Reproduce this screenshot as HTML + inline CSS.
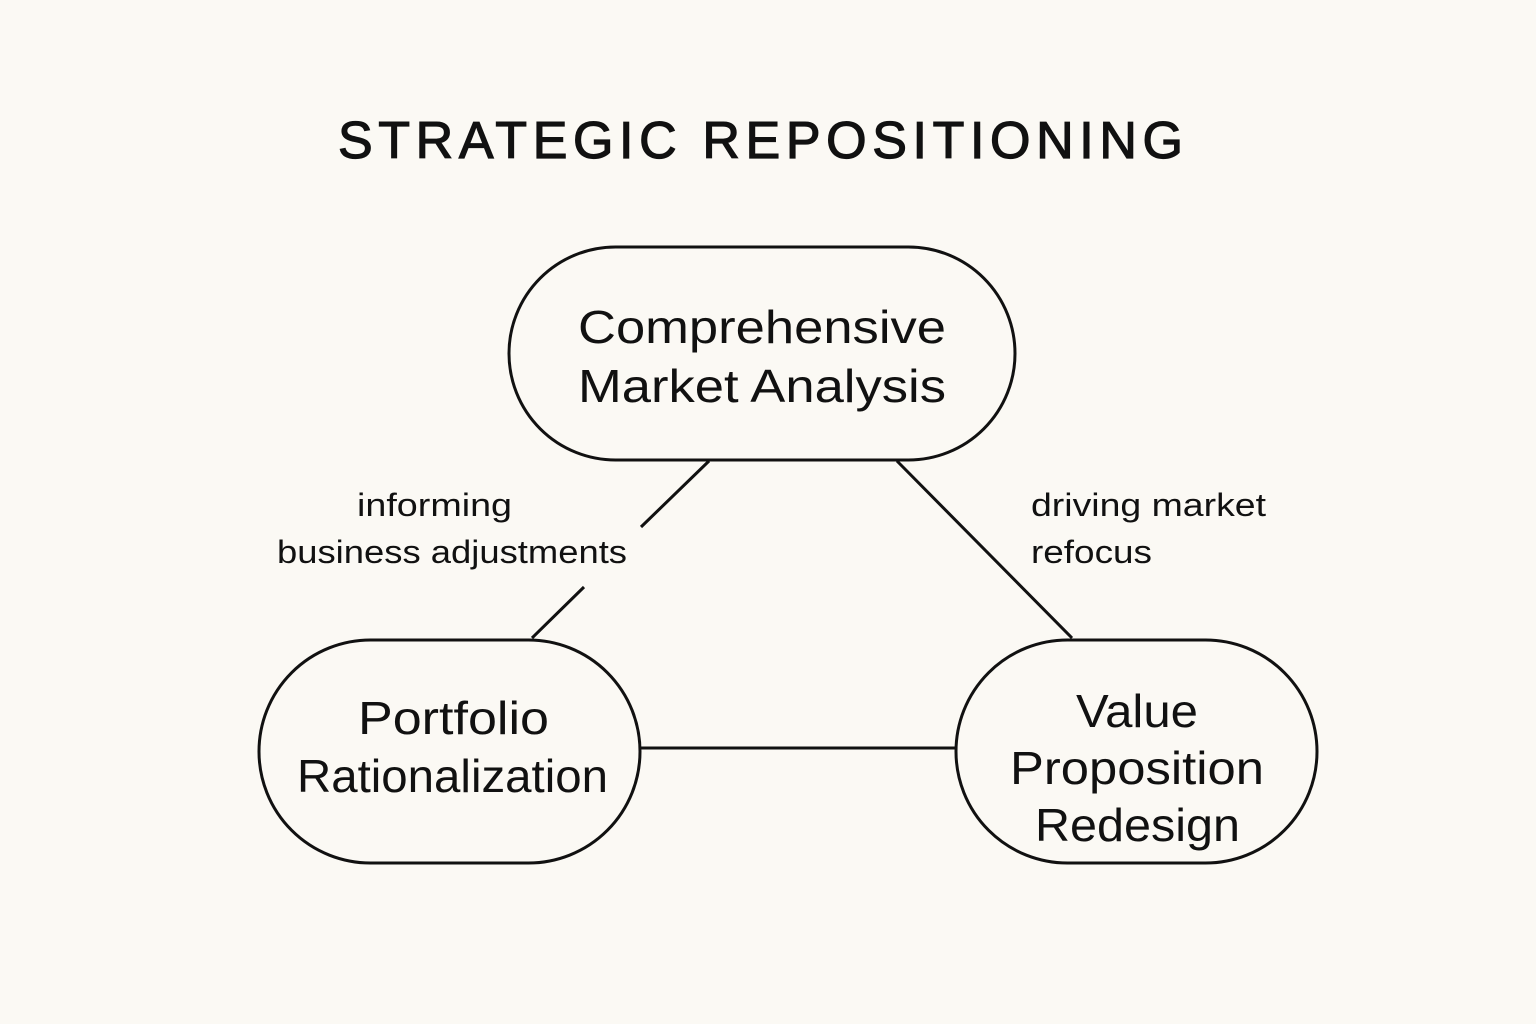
<!DOCTYPE html>
<html><head><meta charset="utf-8"><style>
html,body{margin:0;padding:0;background:#fbf9f4;}
svg{display:block}
text{font-family:"Liberation Sans",sans-serif;fill:#111;}
</style></head><body>
<svg width="1536" height="1024" viewBox="0 0 1536 1024">
<rect width="1536" height="1024" fill="#fbf9f4"/>
<text x="338" y="158" font-size="52" stroke="#111" stroke-width="1.2" textLength="845" lengthAdjust="spacing">STRATEGIC REPOSITIONING</text>
<g fill="none" stroke="#111" stroke-width="3">
<rect x="509" y="247" width="506" height="213" rx="106.5"/>
<rect x="259" y="640" width="381" height="223" rx="111.5"/>
<rect x="956" y="640" width="361" height="223" rx="111.5"/>
<line x1="709" y1="461" x2="641" y2="527"/>
<line x1="584" y1="587" x2="532" y2="638"/>
<line x1="897" y1="461" x2="1072" y2="638"/>
<line x1="640" y1="748" x2="956" y2="748"/>
</g>
<g font-size="46" lengthAdjust="spacingAndGlyphs">
<text x="578" y="343" textLength="368" lengthAdjust="spacingAndGlyphs">Comprehensive</text>
<text x="578" y="402" textLength="368" lengthAdjust="spacingAndGlyphs">Market Analysis</text>
<text x="358" y="734" textLength="191" lengthAdjust="spacingAndGlyphs">Portfolio</text>
<text x="297" y="792" textLength="311" lengthAdjust="spacingAndGlyphs">Rationalization</text>
<text x="1076" y="727" textLength="122" lengthAdjust="spacingAndGlyphs">Value</text>
<text x="1010" y="784" textLength="254" lengthAdjust="spacingAndGlyphs">Proposition</text>
<text x="1035" y="841" textLength="205" lengthAdjust="spacingAndGlyphs">Redesign</text>
</g>
<g font-size="32">
<text x="357" y="516" textLength="155" lengthAdjust="spacingAndGlyphs">informing</text>
<text x="277" y="563" textLength="350" lengthAdjust="spacingAndGlyphs">business adjustments</text>
<text x="1031" y="516" textLength="235" lengthAdjust="spacingAndGlyphs">driving market</text>
<text x="1031" y="563" textLength="121" lengthAdjust="spacingAndGlyphs">refocus</text>
</g>
</svg>
</body></html>
